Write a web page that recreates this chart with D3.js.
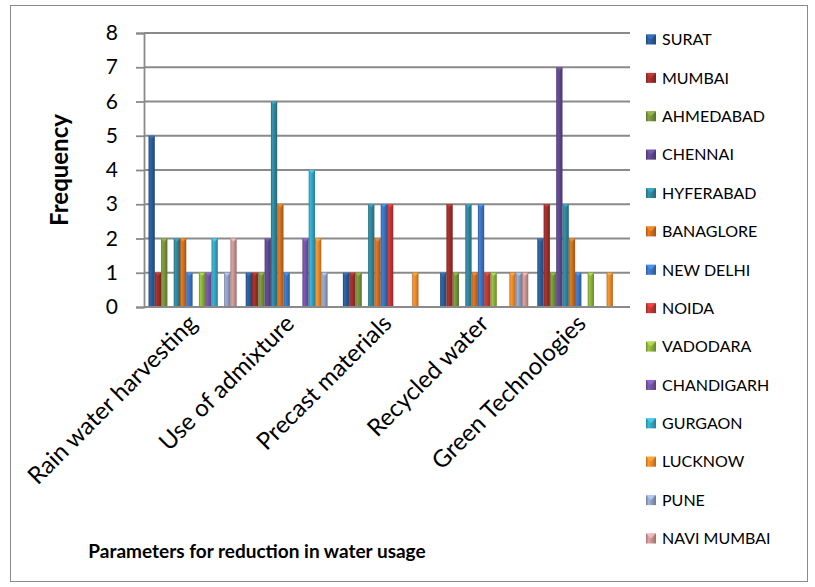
<!DOCTYPE html>
<html>
<head>
<meta charset="utf-8">
<script src="https://cdn.jsdelivr.net/npm/d3@7"></script>
<style>
  html, body { margin: 0; padding: 0; background: #fff; }
  svg { display: block; font-family: Lato, "Open Sans", sans-serif; }
</style>
</head>
<body>
<svg id="chart" width="815" height="587"></svg>
<script>
// Categories (parameters) and cities (series)
const categories = ["Rain water harvesting", "Use of admixture", "Precast materials", "Recycled water", "Green Technologies"];
const cities = ["SURAT", "MUMBAI", "AHMEDABAD", "CHENNAI", "HYFERABAD", "BANAGLORE", "NEW DELHI",
                "NOIDA", "VADODARA", "CHANDIGARH", "GURGAON", "LUCKNOW", "PUNE", "NAVI MUMBAI"];

// Frequency per city, one value per category
const surat      = [5, 1, 1, 1, 2];
const mumbai     = [1, 1, 1, 3, 3];
const ahmedabad  = [2, 1, 1, 1, 1];
const chennai    = [0, 2, 0, 0, 7];
const hyferabad  = [2, 6, 3, 3, 3];
const banaglore  = [2, 3, 2, 1, 2];
const newDelhi   = [1, 1, 3, 3, 1];
const noida      = [0, 0, 3, 1, 0];
const vadodara   = [1, 0, 0, 1, 1];
const chandigarh = [1, 2, 0, 0, 0];
const gurgaon    = [2, 4, 0, 0, 0];
const lucknow    = [0, 2, 1, 1, 1];
const pune       = [1, 1, 0, 1, 0];
const naviMumbai = [2, 0, 0, 1, 0];

const yTicks = [0, 1, 2, 3, 4, 5, 6, 7, 8];

const seriesValues = [surat, mumbai, ahmedabad, chennai, hyferabad, banaglore, newDelhi,
                      noida, vadodara, chandigarh, gurgaon, lucknow, pune, naviMumbai];

const colors = ["#2a5a95", "#9b2d2a", "#74903a", "#5d4789", "#2f8399", "#cc6d1e", "#3a72bd",
                "#bd3634", "#8aae3c", "#7153a0", "#34a2be", "#e9862a", "#8d9dbf", "#c49290"];

const svg = d3.select("#chart");
const margin = { left: 144, right: 630, top: 33, bottom: 307 };

// Outer chart frame
svg.append("rect")
  .attr("x", 10.5).attr("y", 5.5)
  .attr("width", 797).attr("height", 576)
  .attr("fill", "#fff").attr("stroke", "#8a8a8a").attr("stroke-width", 1);

const x0 = d3.scaleBand().domain(categories).range([margin.left, margin.right]).padding(0);
const gap = 9;
const x1 = d3.scaleBand().domain(cities).range([gap / 2, x0.bandwidth() - gap / 2]).padding(0);
const y = d3.scaleLinear().domain([0, 8]).range([margin.bottom, margin.top]);

// Gradients giving each bar a rounded, bevelled look
const defs = svg.append("defs");
colors.forEach((c, i) => {
  const g = defs.append("linearGradient").attr("id", "g" + i)
    .attr("x1", "0").attr("x2", "1").attr("y1", "0").attr("y2", "0");
  const base = d3.color(c);
  g.append("stop").attr("offset", "0%").attr("stop-color", base.darker(0.6));
  g.append("stop").attr("offset", "25%").attr("stop-color", base.brighter(0.35));
  g.append("stop").attr("offset", "55%").attr("stop-color", base);
  g.append("stop").attr("offset", "100%").attr("stop-color", base.darker(0.7));
});

// Horizontal gridlines
svg.append("g")
  .selectAll("line").data(yTicks.filter(d => d > 0)).join("line")
  .attr("x1", margin.left).attr("x2", margin.right)
  .attr("y1", d => y(d)).attr("y2", d => y(d))
  .attr("stroke", "#8a8a8a").attr("stroke-width", 1.8);

// Y axis
const yAxis = svg.append("g")
  .attr("transform", `translate(${margin.left},0)`)
  .call(d3.axisLeft(y).tickValues(yTicks).tickSize(8).tickPadding(18).tickFormat(d3.format("d")));
yAxis.select(".domain").attr("stroke", "#8a8a8a").attr("stroke-width", 1.8);
yAxis.selectAll(".tick line").attr("stroke", "#8a8a8a").attr("stroke-width", 1.8);
yAxis.selectAll(".tick text").attr("font-size", 21).attr("fill", "#000")
  .attr("font-family", "Lato, sans-serif");

// Bars
const groups = svg.append("g").selectAll("g").data(categories).join("g")
  .attr("transform", d => `translate(${x0(d)},0)`);

groups.each(function(cat, ci) {
  const g = d3.select(this);
  const data = cities.map((city, si) => ({ city, si, v: seriesValues[si][ci] })).filter(d => d.v > 0);
  g.selectAll("rect").data(data).join("rect")
    .attr("x", d => x1(d.city))
    .attr("y", d => y(d.v))
    .attr("width", x1.bandwidth())
    .attr("height", d => y(0) - y(d.v))
    .attr("fill", d => `url(#g${d.si})`);
  // light cap at the top of each bar
  g.selectAll("path.cap").data(data).join("path").attr("class", "cap")
    .attr("d", d => {
      const bx = x1(d.city), bw = x1.bandwidth(), by = y(d.v);
      return `M${bx},${by} L${bx + bw},${by} L${bx + bw / 2},${by + bw / 2} Z`;
    })
    .attr("fill", d => d3.color(colors[d.si]).brighter(0.8))
    .attr("opacity", 0.8);
});

// X axis line
svg.append("line")
  .attr("x1", margin.left).attr("x2", margin.right)
  .attr("y1", y(0)).attr("y2", y(0))
  .attr("stroke", "#8a8a8a").attr("stroke-width", 1.8);

// Category labels, rotated
svg.append("g").selectAll("text").data(categories).join("text")
  .attr("transform", d => `translate(${x0(d) + x0.bandwidth() / 2 + 6},${y(0) + 18}) rotate(-45)`)
  .attr("text-anchor", "end")
  .attr("font-size", 24)
  .attr("fill", "#000")
  .text(d => d);

// Axis titles
svg.append("text")
  .attr("transform", `translate(68,170) rotate(-90)`)
  .attr("text-anchor", "middle")
  .attr("font-size", 24).attr("font-weight", "bold")
  .text("Frequency");

svg.append("text")
  .attr("x", 257).attr("y", 558)
  .attr("text-anchor", "middle")
  .attr("font-size", 19).attr("font-weight", "bold")
  .text("Parameters for reduction in water usage");

// Legend
const legend = svg.append("g").attr("transform", "translate(646,0)");
const legendY = d3.scalePoint().domain(cities).range([39.5, 538.5]);
const items = legend.selectAll("g").data(cities).join("g")
  .attr("transform", d => `translate(0,${legendY(d)})`);
items.append("rect")
  .attr("x", 0).attr("y", -5).attr("width", 10).attr("height", 10)
  .attr("fill", (d, i) => `url(#g${i})`);
items.append("path")
  .attr("d", "M0,-5 L10,-5 L5,0 Z")
  .attr("fill", (d, i) => d3.color(colors[i]).brighter(0.8))
  .attr("opacity", 0.8);
items.append("text")
  .attr("x", 16).attr("y", 0).attr("dy", "0.36em")
  .attr("font-size", 16)
  .text(d => d);
</script>
</body>
</html>
